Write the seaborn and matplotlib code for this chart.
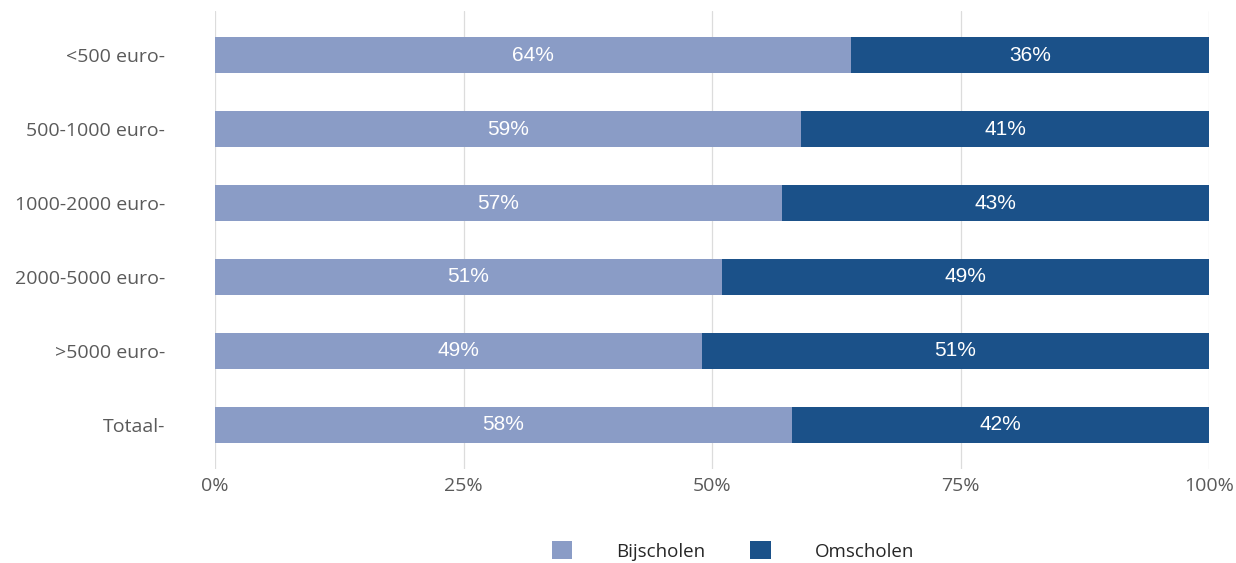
import matplotlib.pyplot as plt
import pandas as pd
import seaborn as sns

# categories and shares (in %)
categories = ['<500 euro-', '500-1000 euro-', '1000-2000 euro-', '2000-5000 euro-', '>5000 euro-', 'Totaal-']
bijscholen = [64, 59, 57, 51, 49, 58]
omscholen = [36, 41, 43, 49, 51, 42]

light = '#8A9CC6'
dark = '#1B5189'

df = pd.DataFrame({'cat': categories, 'bij': bijscholen, 'om': omscholen})
df['total'] = df['bij'] + df['om']

sns.set_style('white')
plt.rcParams['font.family'] = ['Open Sans', 'DejaVu Sans']

fig = plt.figure(figsize=(12.36, 5.63), dpi=100)
ax = fig.add_axes([215 / 1236, 1 - 469 / 563, 994 / 1236, 458 / 563])

sns.barplot(data=df, y='cat', x='total', color=dark, orient='h', width=0.49,
            ax=ax, saturation=1, label='Omscholen', linewidth=0)
sns.barplot(data=df, y='cat', x='bij', color=light, orient='h', width=0.49,
            ax=ax, saturation=1, label='Bijscholen', linewidth=0)

# labels in the middle of each segment
for i, (b, o) in enumerate(zip(bijscholen, omscholen)):
    ax.text(b / 2, i, f'{b}%', ha='center', va='center', color='white',
            fontsize=15, family=['Liberation Sans'])
    ax.text(b + o / 2, i, f'{o}%', ha='center', va='center', color='white',
            fontsize=15, family=['Liberation Sans'])

ax.set_xlim(0, 100)
ax.set_ylim(5.6, -0.6)
ax.set_xticks([0, 25, 50, 75, 100])
ax.set_xticklabels(['0%', '25%', '50%', '75%', '100%'])
ax.xaxis.grid(True, color='#DCDCDC', linewidth=0.9)
ax.set_axisbelow(True)
for s in ax.spines.values():
    s.set_visible(False)
ax.set_xlabel('')
ax.set_ylabel('')
ax.tick_params(axis='both', length=0, labelsize=14, colors='#5A5A5A')
ax.tick_params(axis='y', pad=36)
ax.tick_params(axis='x', pad=6)

handles, labels = ax.get_legend_handles_labels()
if ax.get_legend() is not None:
    ax.get_legend().remove()
order = [labels.index('Bijscholen'), labels.index('Omscholen')]
fig.legend([handles[k] for k in order], [labels[k] for k in order],
           loc='center', bbox_to_anchor=(0.593, 1 - 551 / 563), ncol=2,
           frameon=False, handlelength=1.1, handleheight=1.1,
           handletextpad=2.35, columnspacing=2.4,
           prop={'family': ['Open Sans'], 'size': 13.5})

fig.savefig('out.png', dpi=100)
